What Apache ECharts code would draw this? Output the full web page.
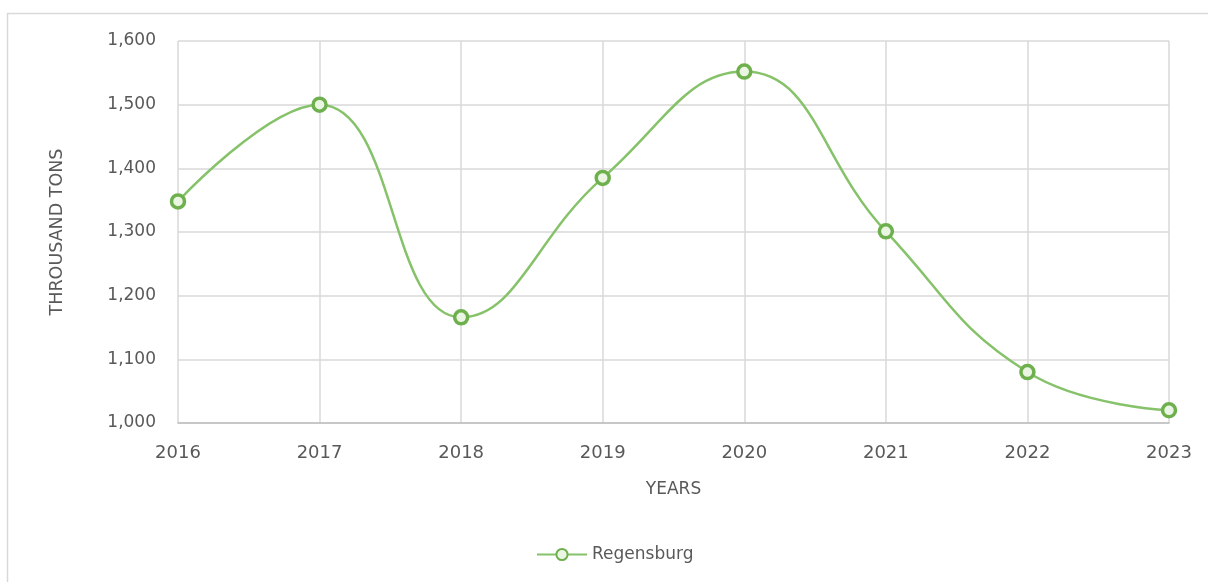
<!DOCTYPE html>
<html>
<head>
<meta charset="utf-8">
<script src="https://cdn.jsdelivr.net/npm/echarts@6/dist/echarts.min.js"></script>
<style>
  html, body { margin: 0; padding: 0; background: #fff; }
  #chart { width: 1208px; height: 582px; }
</style>
</head>
<body>
<div id="chart"></div>
<script>
// Annual cargo volume, thousand tons
const years = ['2016', '2017', '2018', '2019', '2020', '2021', '2022', '2023'];
const regensburg = [1348, 1500, 1166, 1385, 1552, 1301, 1080, 1020];
const seriesName = 'Regensburg';

const textColor = '#595959';
const gridColor = '#d9d9d9';
const font = 'DejaVu Sans';

const chart = echarts.init(document.getElementById('chart'));
chart.setOption({
  backgroundColor: '#fff',
  animation: false,
  graphic: [{
    type: 'rect',
    shape: { x: 7.5, y: 13.5, width: 1300, height: 700 },
    style: { fill: 'none', stroke: '#d9d9d9', lineWidth: 1.5 },
    silent: true
  }],
  grid: { left: 178, right: 39, top: 41, bottom: 159 },
  legend: {
    data: [seriesName],
    bottom: 14,
    left: 531,
    itemWidth: 50,
    itemHeight: 14,
    itemGap: 8,
    textStyle: { color: textColor, fontFamily: font, fontSize: 17 }
  },
  xAxis: {
    type: 'category',
    data: years,
    boundaryGap: false,
    name: 'YEARS',
    nameLocation: 'middle',
    nameGap: 58,
    nameTextStyle: { color: textColor, fontFamily: font, fontSize: 17 },
    axisLine: { lineStyle: { color: '#bfbfbf', width: 1.5 } },
    axisTick: { show: false },
    axisLabel: { color: textColor, fontFamily: font, fontSize: 18, margin: 21 },
    splitLine: { show: true, lineStyle: { color: gridColor, width: 1.5 } }
  },
  yAxis: {
    type: 'value',
    min: 1000,
    max: 1600,
    interval: 100,
    name: 'THROUSAND TONS',
    nameLocation: 'middle',
    nameGap: 112,
    nameTextStyle: { color: textColor, fontFamily: font, fontSize: 17.5 },
    axisLine: { show: false },
    axisTick: { show: false },
    axisLabel: {
      color: textColor, fontFamily: font, fontSize: 17, margin: 22,
      formatter: v => v.toLocaleString('en-US')
    },
    splitLine: { lineStyle: { color: gridColor, width: 1.5 } }
  },
  series: [{
    name: seriesName,
    type: 'line',
    data: regensburg,
    smooth: 0.45,
    symbol: 'circle',
    symbolSize: 13,
    lineStyle: { color: '#86c26a', width: 2.5 },
    itemStyle: { color: '#eaf5e3', borderColor: '#6fb04e', borderWidth: 3.5 }
  }]
});
</script>
</body>
</html>
